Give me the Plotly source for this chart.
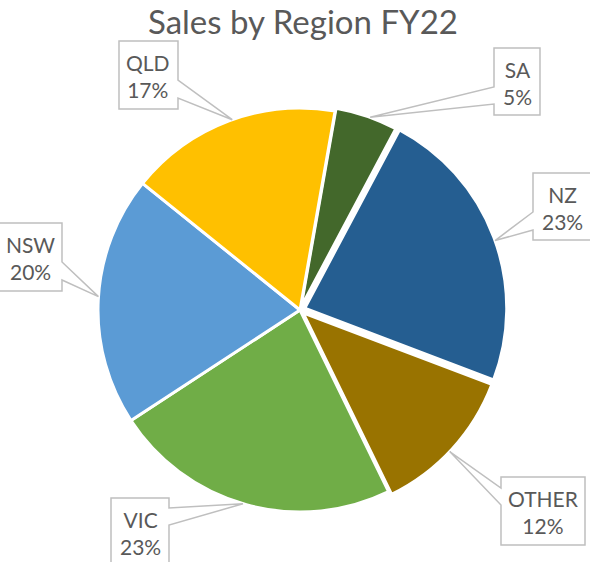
import math
import plotly.graph_objects as go

# ---- data ----
regions = ["SA", "NZ", "OTHER", "VIC", "NSW", "QLD"]
shares = [5, 23, 12, 23, 20, 17]
colors = ["#43682B", "#255E91", "#997300", "#70AD47", "#5B9BD5", "#FFC000"]
pulls = [0.015, 0.025, 0.02, 0.0, 0.0, 0.0]
title_text = "Sales by Region FY22"

# ---- layout constants (pixels) ----
W, H = 590, 562
CX, CY, R = 300, 310, 202
ROT = 10
# callout boxes: x0, y0, x1, y1, side of pointer, pointer base y0, y1
boxes = {
    "SA":    (494, 48, 540, 115, "left", 87, 104),
    "NZ":    (533, 173, 592, 240, "left", 212, 230),
    "OTHER": (501, 477, 585, 545, "left", 488, 505),
    "VIC":   (111, 498, 169, 566, "right", 508, 525),
    "NSW":   (-2, 223, 62, 291, "right", 262, 280),
    "QLD":   (119, 41, 178, 109, "right", 80, 98),
}

def px(x):
    return x / W

def py(y):
    return 1 - y / H

maxpull = max(pulls)
half = R * (1 + maxpull)

fig = go.Figure(go.Pie(
    labels=regions,
    values=shares,
    sort=False,
    direction="clockwise",
    rotation=ROT,
    pull=pulls,
    marker=dict(colors=colors, line=dict(color="white", width=3)),
    textinfo="none",
    hoverinfo="label+percent",
    showlegend=False,
    domain=dict(x=[px(CX - half), px(CX + half)], y=[py(CY + half), py(CY - half)]),
))

total = sum(shares)
cum = 0
shapes = []
annotations = []
for name, v, p in zip(regions, shares, pulls):
    mid = ROT + 360 * (cum + v / 2) / total + 1
    cum += v
    rr = R * (1 + p)
    tx = CX + rr * math.sin(math.radians(mid))
    ty = CY - rr * math.cos(math.radians(mid))
    x0, y0, x1, y1, side, b0, b1 = boxes[name]
    if side == "right":
        pts = [(x0, y0), (x1, y0), (x1, b0), (tx, ty), (x1, b1), (x1, y1), (x0, y1)]
    else:
        pts = [(x0, y0), (x1, y0), (x1, y1), (x0, y1), (x0, b1), (tx, ty), (x0, b0)]
    path = "M " + " L ".join(f"{px(a):.5f},{py(b):.5f}" for a, b in pts) + " Z"
    shapes.append(dict(type="path", path=path, xref="paper", yref="paper",
                       line=dict(color="#BFBFBF", width=1.5), fillcolor="white", layer="above"))
    pct = round(100 * v / total)
    annotations.append(dict(
        x=px((x0 + x1) / 2), y=py((y0 + y1) / 2 + 1), xref="paper", yref="paper",
        text=f"{name}<br>{pct}%", showarrow=False, xanchor="center", yanchor="middle",
        font=dict(family="Lato", size=21, color="#595959"), align="center"))

annotations.append(dict(
    x=px(303), y=py(21), xref="paper", yref="paper", text=title_text, showarrow=False,
    xanchor="center", yanchor="middle", font=dict(family="Lato", size=33, color="#595959")))

fig.update_layout(
    width=W, height=H,
    margin=dict(l=0, r=0, t=0, b=0),
    paper_bgcolor="white", plot_bgcolor="white",
    shapes=shapes, annotations=annotations,
)
fig.write_html("out.html", config={"displayModeBar": False},
               post_script="document.body.style.margin='0';document.body.style.overflow='hidden';")
